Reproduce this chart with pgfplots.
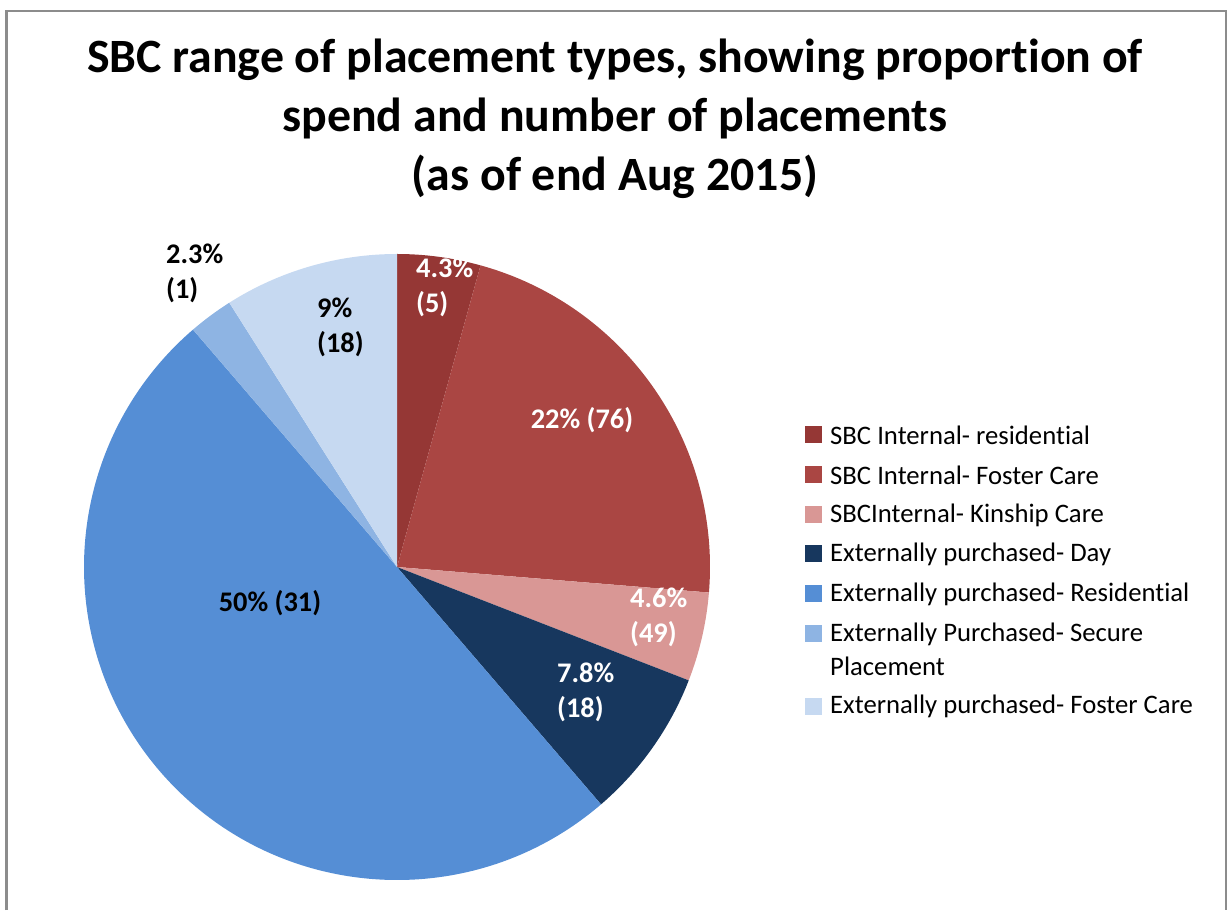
\documentclass[border=0pt]{standalone}
\usepackage{pgfplots}
\pgfplotsset{compat=1.18}
\usepackage{pgfplotstable}
\usepackage{fontspec}
\setmainfont{Carlito}[Ligatures=NoCommon]

\definecolor{cA}{HTML}{953735}
\definecolor{cB}{HTML}{AA4643}
\definecolor{cC}{HTML}{D99795}
\definecolor{cD}{HTML}{17375E}
\definecolor{cE}{HTML}{558ED5}
\definecolor{cF}{HTML}{8EB4E3}
\definecolor{cG}{HTML}{C6D9F1}
\definecolor{frame}{HTML}{8C8C8C}

% share of spend (%) per placement type, clockwise from 12 o'clock
\pgfplotstableread{
value colour
4.3   cA
22    cB
4.6   cC
7.8   cD
50    cE
2.3   cF
9     cG
}\piedata

\newcommand\legrow[3]{%
    \fill[#2] (axis cs:805,#1-8.5) rectangle (axis cs:822,#1+8.5);
    \node at (axis cs:830,#1) {#3};}

\begin{document}
\begin{tikzpicture}
\begin{axis}[
    x=1bp, y=1bp,
    xmin=0, xmax=1230, ymin=0, ymax=910,
    hide axis, clip=false,
]
\pgfplotstablegetrowsof{\piedata}
\pgfmathtruncatemacro\lastrow{\pgfplotsretval-1}
\def\cum{0}
\pgfplotsforeachungrouped \i in {0,...,\lastrow}{
    \pgfplotstablegetelem{\i}{value}\of\piedata \let\val\pgfplotsretval
    \pgfplotstablegetelem{\i}{colour}\of\piedata \let\col\pgfplotsretval
    \pgfmathsetmacro\angA{90-3.6*\cum}
    \pgfmathsetmacro\angB{90-3.6*(\cum+\val)}
    \edef\temp{\noexpand\fill[\col] (axis cs:397,343) -- ++(\angA:313bp)
        arc[start angle=\angA, end angle=\angB, radius=313bp] -- cycle;}
    \temp
    \pgfmathsetmacro\cum{\cum+\val}
}

% slice labels
\begin{scope}[every node/.style={font=\bfseries\fontsize{28.5}{35}\selectfont, align=left, inner sep=0pt}]
\node[anchor=west, text=white] at (axis cs:416,623) {4.3\%\\(5)};
\node[text=white] at (axis cs:582,490) {22\% (76)};
\node[anchor=west, text=white] at (axis cs:630,293) {4.6\%\\(49)};
\node[anchor=west, text=white] at (axis cs:557,218) {7.8\%\\(18)};
\node at (axis cs:270,307) {50\% (31)};
\node[anchor=west] at (axis cs:166,637) {2.3\%\\(1)};
\node[anchor=west] at (axis cs:317,583) {9\%\\(18)};
\end{scope}

% title
\node[font=\bfseries\fontsize{48}{59}\selectfont, align=center] at (axis cs:615,791)
    {SBC range of placement types, showing proportion of\\spend and number of placements\\(as of end Aug 2015)};

% legend
\begin{scope}[every node/.style={font=\fontsize{26.8}{32}\selectfont, align=left, inner sep=0pt, anchor=west}]
\legrow{475}{cA}{SBC Internal- residential}
\legrow{435}{cB}{SBC Internal- Foster Care}
\legrow{395}{cC}{SBCInternal- Kinship Care}
\legrow{356}{cD}{Externally purchased- Day}
\legrow{316}{cE}{Externally purchased- Residential}
\legrow{276}{cF}{Externally Purchased- Secure}
\node at (axis cs:830,244) {Placement};
\legrow{204}{cG}{Externally purchased- Foster Care}
\end{scope}

% chart frame
\draw[frame, line width=2bp] (axis cs:6.5,0) -- (axis cs:6.5,898.5) -- (axis cs:1225.5,898.5) -- (axis cs:1225.5,0);
\path (axis cs:0,0) rectangle (axis cs:1230,910);
\end{axis}
\end{tikzpicture}
\end{document}
